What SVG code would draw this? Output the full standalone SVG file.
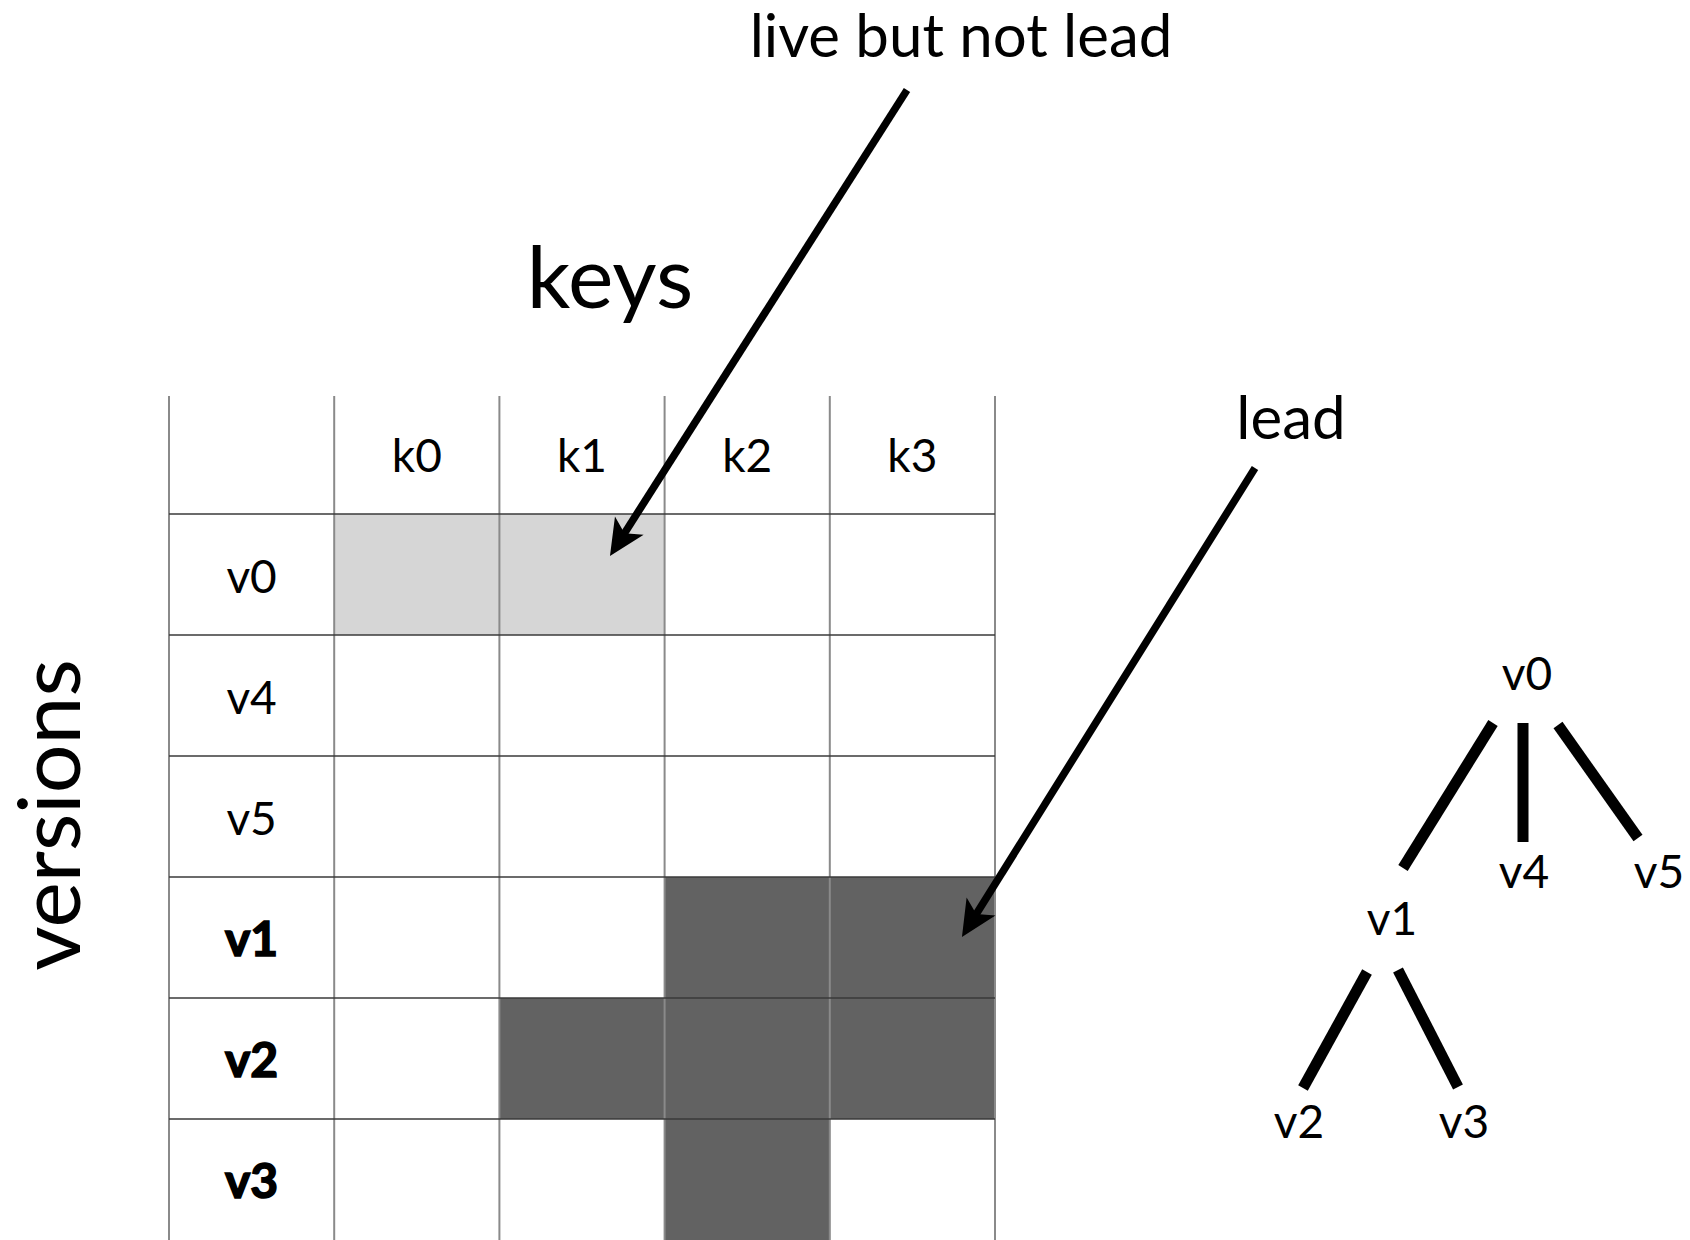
<svg xmlns="http://www.w3.org/2000/svg" width="1690" height="1240" viewBox="0 0 1690 1240">
  <style>
    text { font-family: "Lato", "Open Sans", "Liberation Sans", sans-serif; fill: #000; }
    .lbl { font-size: 46px; text-anchor: middle; }
    .bold { font-weight: 700; font-size: 48px; stroke: #000; stroke-width: 1.6; }
    .title { font-size: 86px; text-anchor: middle; }
    .note { font-size: 60px; text-anchor: middle; }
    .light { fill: #d6d6d6; }
    .dark { fill: #626262; }
    .vline { stroke: #8a8a8a; stroke-width: 2; }
    .hline { stroke: #3a3a3a; stroke-width: 1.5; }
    .arrow { stroke: #000; stroke-width: 7.5; fill: none; marker-end: url(#head); }
    .edge { stroke: #000; stroke-width: 11; stroke-linecap: butt; }
  </style>
  <defs>
    <marker id="head" markerUnits="userSpaceOnUse" viewBox="-40 -20 44 40" markerWidth="44" markerHeight="40" refX="-25" refY="0" orient="auto">
      <path d="M0,0 L-36,-17 L-27,0 L-36,17 Z" fill="#000"/>
    </marker>
  </defs>
  <rect width="1690" height="1240" fill="#fff"/>

  <g id="grid">
    <g id="cells">
      <rect class="light" x="334.2" y="514" width="165.2" height="121"/>
      <rect class="light" x="499.4" y="514" width="165.2" height="121"/>
      <rect class="dark" x="664.6" y="877" width="165.2" height="121"/>
      <rect class="dark" x="829.8" y="877" width="165.2" height="121"/>
      <rect class="dark" x="499.4" y="998" width="165.2" height="121"/>
      <rect class="dark" x="664.6" y="998" width="165.2" height="121"/>
      <rect class="dark" x="829.8" y="998" width="165.2" height="121"/>
      <rect class="dark" x="664.6" y="1119" width="165.2" height="121"/>
    </g>
    <g id="gridlines">
      <line class="vline" x1="169" y1="396" x2="169" y2="1240"/>
      <line class="vline" x1="334.2" y1="396" x2="334.2" y2="1240"/>
      <line class="vline" x1="499.4" y1="396" x2="499.4" y2="1240"/>
      <line class="vline" x1="664.6" y1="396" x2="664.6" y2="1240"/>
      <line class="vline" x1="829.8" y1="396" x2="829.8" y2="1240"/>
      <line class="vline" x1="995" y1="396" x2="995" y2="1240"/>
      <line class="hline" x1="169" y1="514" x2="995" y2="514"/>
      <line class="hline" x1="169" y1="635" x2="995" y2="635"/>
      <line class="hline" x1="169" y1="756" x2="995" y2="756"/>
      <line class="hline" x1="169" y1="877" x2="995" y2="877"/>
      <line class="hline" x1="169" y1="998" x2="995" y2="998"/>
      <line class="hline" x1="169" y1="1119" x2="995" y2="1119"/>
    </g>
    <g id="col-headers">
      <text class="lbl" x="416.8" y="472">k0</text>
      <text class="lbl" x="582" y="472">k1</text>
      <text class="lbl" x="747.2" y="472">k2</text>
      <text class="lbl" x="912.4" y="472">k3</text>
    </g>
    <g id="row-headers">
      <text class="lbl" x="251.6" y="593">v0</text>
      <text class="lbl" x="251.6" y="714">v4</text>
      <text class="lbl" x="251.6" y="835">v5</text>
      <text class="lbl bold" x="251.6" y="956">v1</text>
      <text class="lbl bold" x="251.6" y="1077">v2</text>
      <text class="lbl bold" x="251.6" y="1198">v3</text>
    </g>
  </g>

  <g id="axis-keys"><text class="title" x="610" y="308">keys</text></g>
  <g id="axis-versions"><text class="title" transform="translate(80,815) rotate(-90)">versions</text></g>

  <g id="note-live"><text class="note" x="961" y="57">live but not lead</text></g>
  <g id="note-lead"><text class="note" x="1291" y="439">lead</text></g>

  <g id="tree-v0"><text class="lbl" x="1527" y="690">v0</text></g>
  <g id="tree-v4"><text class="lbl" x="1524" y="888">v4</text></g>
  <g id="tree-v5"><text class="lbl" x="1659" y="888">v5</text></g>
  <g id="tree-v1"><text class="lbl" x="1392" y="935">v1</text></g>
  <g id="tree-v2"><text class="lbl" x="1299" y="1138">v2</text></g>
  <g id="tree-v3"><text class="lbl" x="1464" y="1138">v3</text></g>

  <g id="connectors">
    <line class="arrow" x1="907" y1="90" x2="623.4" y2="534.9"/>
    <line class="arrow" x1="1255" y1="468" x2="975.2" y2="915.8"/>
    <line class="edge" x1="1493" y1="723" x2="1403" y2="868"/>
    <line class="edge" x1="1523" y1="723" x2="1523" y2="842"/>
    <line class="edge" x1="1558" y1="725" x2="1638" y2="838"/>
    <line class="edge" x1="1367" y1="972" x2="1303" y2="1088"/>
    <line class="edge" x1="1398" y1="970" x2="1458" y2="1087"/>
  </g>
</svg>
